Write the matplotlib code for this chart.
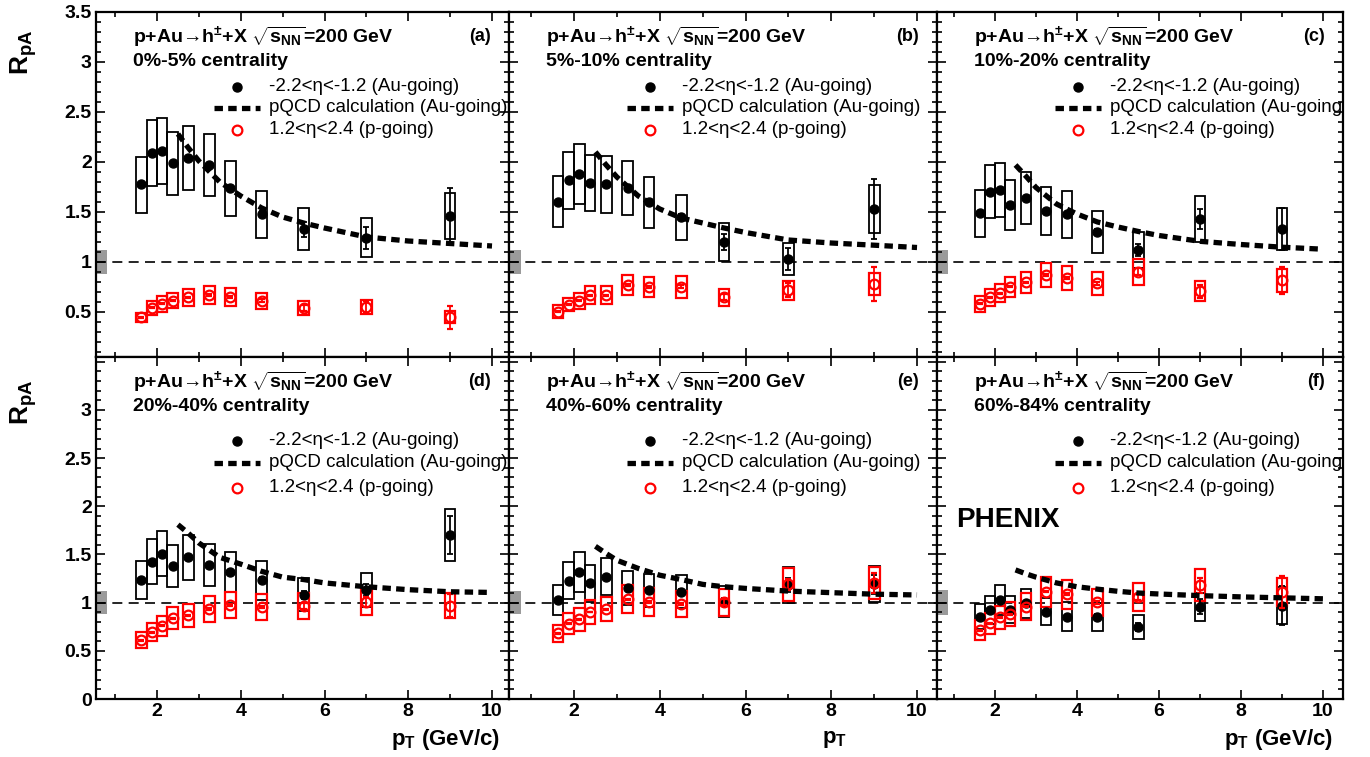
import numpy as np
import matplotlib
import matplotlib.pyplot as plt
from matplotlib.patches import Rectangle
from matplotlib.ticker import MultipleLocator, FuncFormatter

plt.rcParams['font.family'] = ['Liberation Sans', 'DejaVu Sans']
plt.rcParams['mathtext.fontset'] = 'custom'
plt.rcParams['mathtext.rm'] = 'Liberation Sans:bold'
plt.rcParams['mathtext.bf'] = 'Liberation Sans:bold'
plt.rcParams['mathtext.it'] = 'Liberation Sans:bold:italic'
plt.rcParams['mathtext.default'] = 'rm'

# ---- data ----
pt = [1.625, 1.875, 2.125, 2.375, 2.75, 3.25, 3.75, 4.5, 5.5, 7.0, 9.0]
bin_w = 0.25   # width of systematic boxes

centrality = ['0%-5%', '5%-10%', '10%-20%', '20%-40%', '40%-60%', '60%-84%']
tags = ['(a)', '(b)', '(c)', '(d)', '(e)', '(f)']

# Au-going, -2.2<eta<-1.2
au_val = [
    [1.775, 2.09, 2.11, 1.987, 2.04, 1.966, 1.738, 1.476, 1.329, 1.242, 1.456],
    [1.60, 1.815, 1.876, 1.789, 1.775, 1.74, 1.597, 1.446, 1.195, 1.034, 1.53],
    [1.487, 1.70, 1.72, 1.574, 1.64, 1.51, 1.476, 1.30, 1.12, 1.43, 1.33],
    [1.235, 1.426, 1.509, 1.38, 1.47, 1.388, 1.318, 1.232, 1.083, 1.13, 1.70],
    [1.028, 1.228, 1.315, 1.20, 1.27, 1.149, 1.128, 1.114, 1.01, 1.183, 1.19],
    [0.855, 0.924, 1.028, 0.924, 0.993, 0.907, 0.855, 0.855, 0.751, 0.958, 0.97],
]
au_sys = [
    [0.28, 0.33, 0.334, 0.315, 0.324, 0.31, 0.277, 0.235, 0.21, 0.195, 0.23],
    [0.255, 0.285, 0.30, 0.28, 0.285, 0.27, 0.255, 0.225, 0.19, 0.16, 0.243],
    [0.235, 0.265, 0.27, 0.25, 0.26, 0.24, 0.235, 0.207, 0.176, 0.227, 0.213],
    [0.195, 0.23, 0.237, 0.22, 0.235, 0.22, 0.21, 0.20, 0.17, 0.18, 0.27],
    [0.16, 0.19, 0.206, 0.19, 0.19, 0.176, 0.168, 0.17, 0.16, 0.187, 0.187],
    [0.128, 0.145, 0.16, 0.14, 0.149, 0.142, 0.147, 0.144, 0.125, 0.147, 0.19],
]
au_stat = [
    [0.01, 0.01, 0.01, 0.01, 0.01, 0.015, 0.02, 0.03, 0.075, 0.11, 0.285],
    [0.01, 0.01, 0.01, 0.01, 0.01, 0.015, 0.02, 0.03, 0.08, 0.11, 0.30],
    [0.01, 0.01, 0.01, 0.01, 0.01, 0.015, 0.02, 0.03, 0.06, 0.10, 0.21],
    [0.01, 0.01, 0.01, 0.01, 0.01, 0.015, 0.02, 0.03, 0.04, 0.065, 0.20],
    [0.01, 0.01, 0.01, 0.01, 0.01, 0.015, 0.02, 0.03, 0.04, 0.07, 0.10],
    [0.01, 0.01, 0.01, 0.01, 0.01, 0.015, 0.02, 0.03, 0.04, 0.08, 0.20],
]

# p-going, 1.2<eta<2.4
p_val = [
    [0.446, 0.54, 0.58, 0.614, 0.648, 0.668, 0.654, 0.61, 0.54, 0.55, 0.446],
    [0.50, 0.574, 0.614, 0.668, 0.668, 0.768, 0.75, 0.75, 0.648, 0.718, 0.78],
    [0.58, 0.648, 0.685, 0.75, 0.795, 0.872, 0.84, 0.785, 0.90, 0.708, 0.815],
    [0.612, 0.695, 0.758, 0.84, 0.868, 0.934, 0.972, 0.955, 0.965, 1.007, 0.969],
    [0.682, 0.78, 0.827, 0.903, 0.934, 1.035, 1.01, 0.986, 1.003, 1.19, 1.204],
    [0.716, 0.785, 0.848, 0.879, 0.958, 1.114, 1.087, 1.003, 1.062, 1.183, 1.11],
]
p_sys = [
    [0.047, 0.07, 0.077, 0.079, 0.084, 0.092, 0.09, 0.082, 0.07, 0.074, 0.059],
    [0.065, 0.067, 0.08, 0.087, 0.087, 0.102, 0.10, 0.106, 0.084, 0.096, 0.106],
    [0.08, 0.084, 0.09, 0.102, 0.107, 0.12, 0.12, 0.112, 0.126, 0.097, 0.117],
    [0.083, 0.095, 0.10, 0.114, 0.116, 0.13, 0.135, 0.133, 0.131, 0.133, 0.133],
    [0.09, 0.109, 0.116, 0.12, 0.126, 0.147, 0.145, 0.14, 0.137, 0.17, 0.168],
    [0.104, 0.109, 0.121, 0.126, 0.138, 0.156, 0.15, 0.138, 0.147, 0.17, 0.145],
]
p_stat = [
    [0.005, 0.005, 0.005, 0.005, 0.005, 0.008, 0.01, 0.015, 0.03, 0.059, 0.117],
    [0.005, 0.005, 0.005, 0.005, 0.005, 0.008, 0.01, 0.015, 0.03, 0.067, 0.166],
    [0.005, 0.005, 0.005, 0.005, 0.005, 0.008, 0.01, 0.015, 0.035, 0.064, 0.138],
    [0.005, 0.005, 0.005, 0.005, 0.005, 0.008, 0.01, 0.015, 0.03, 0.05, 0.118],
    [0.005, 0.005, 0.005, 0.005, 0.005, 0.008, 0.01, 0.015, 0.03, 0.06, 0.10],
    [0.005, 0.005, 0.005, 0.005, 0.005, 0.008, 0.01, 0.015, 0.03, 0.078, 0.17],
]

# pQCD calculation (Au-going)
pqcd_pt = [2.5, 2.75, 3.0, 3.5, 4.0, 4.5, 5.0, 5.5, 6.0, 7.0, 8.0, 9.0, 10.0]
pqcd_val = [
    [2.28, 2.14, 2.01, 1.80, 1.66, 1.54, 1.45, 1.39, 1.34, 1.25, 1.21, 1.185, 1.16],
    [2.10, 1.97, 1.85, 1.66, 1.53, 1.44, 1.39, 1.34, 1.295, 1.22, 1.19, 1.168, 1.145],
    [1.97, 1.86, 1.745, 1.58, 1.48, 1.40, 1.35, 1.305, 1.265, 1.207, 1.175, 1.148, 1.128],
    [1.81, 1.72, 1.62, 1.47, 1.40, 1.325, 1.265, 1.24, 1.205, 1.165, 1.135, 1.113, 1.106],
    [1.585, 1.51, 1.44, 1.355, 1.285, 1.24, 1.19, 1.165, 1.148, 1.12, 1.104, 1.088, 1.08],
    [1.34, 1.30, 1.265, 1.205, 1.165, 1.14, 1.118, 1.10, 1.09, 1.073, 1.06, 1.05, 1.04],
]

# global normalisation uncertainty (grey box at 1)
norm_unc = [0.12, 0.12, 0.12, 0.12, 0.12, 0.13]

# ---- layout (pixels) ----
W, H = 1370, 757
cols = [(96, 509), (509, 937), (937, 1343)]
rows = [(12, 357), (357, 699)]
xlims = [(0.543, 10.406), (0.484, 10.466), (0.585, 10.49)]
ylims = [(0.05, 3.5), (0.0, 3.55)]

red = '#ff0000'
fig = plt.figure(figsize=(W / 100, H / 100), dpi=100)

fmt = FuncFormatter(lambda v, p: '%g' % round(v, 2))

for i in range(6):
    r, c = i // 3, i % 3
    x0, x1 = cols[c]
    y0, y1 = rows[r]
    wpx, hpx = x1 - x0, y1 - y0
    ax = fig.add_axes([x0 / W, 1 - y1 / H, wpx / W, hpx / H])
    ax.set_xlim(*xlims[c])
    ax.set_ylim(*ylims[r])

    def fx(dx):
        return dx / wpx

    def fy(dy):
        return 1 - dy / hpx

    # grey normalisation box and unity line
    ax.add_patch(Rectangle((xlims[c][0], 1 - norm_unc[i]), 0.27, 2 * norm_unc[i],
                           fc='#9a9a9a', ec='none', zorder=1))
    ax.axhline(1, color='k', lw=1.2, ls=(0, (6, 3.8)), zorder=2)

    # Au-going systematic boxes + points
    for x, v, s in zip(pt, au_val[i], au_sys[i]):
        ax.add_patch(Rectangle((x - bin_w / 2, v - s), bin_w, 2 * s,
                               fill=False, ec='k', lw=1.3, zorder=3))
    ax.errorbar(pt, au_val[i], yerr=au_stat[i], fmt='o', color='k', ms=6.5,
                elinewidth=1.3, capsize=2.5, capthick=1.3, zorder=5)

    # p-going
    for x, v, s in zip(pt, p_val[i], p_sys[i]):
        ax.add_patch(Rectangle((x - bin_w / 2, v - s), bin_w, 2 * s,
                               fill=False, ec=red, lw=1.6, zorder=4))
    ax.errorbar(pt, p_val[i], yerr=p_stat[i], fmt='o', mfc='none', mec=red,
                mew=1.6, ms=7, ecolor=red, elinewidth=1.3, capsize=2.5,
                capthick=1.3, zorder=6)

    # pQCD curve
    ax.plot(pqcd_pt, pqcd_val[i], color='k', lw=3.8, ls=(0, (1.6, 1.0)),
            dash_capstyle='butt', zorder=7)

    # ticks
    ax.xaxis.set_major_locator(MultipleLocator(2))
    ax.xaxis.set_minor_locator(MultipleLocator(1))
    ax.yaxis.set_major_locator(MultipleLocator(0.5))
    ax.yaxis.set_minor_locator(MultipleLocator(0.1))
    ax.tick_params(which='both', direction='in', top=True, right=True,
                   width=1.2, labelsize=14, pad=3)
    ax.tick_params(which='major', length=6.5)
    ax.tick_params(which='minor', length=3.3)
    for sp in ax.spines.values():
        sp.set_linewidth(1.6)
    ax.xaxis.set_major_formatter(fmt)
    ax.yaxis.set_major_formatter(fmt)
    if r == 1:
        ax.yaxis.set_major_formatter(
            FuncFormatter(lambda v, p: '' if v > 3.2 else '%g' % round(v, 2)))
    for lab in ax.get_xticklabels() + ax.get_yticklabels():
        lab.set_fontweight('bold')
    if c != 0:
        ax.tick_params(labelleft=False)
    if r == 0:
        ax.tick_params(labelbottom=False)

    # header text
    ax.text(fx(37), fy(25), 'p+Au\u2192h$^{\\pm}$+X $\\sqrt{s_{NN}}$=200 GeV',
            transform=ax.transAxes, fontsize=14, fontweight='bold', va='center')
    ax.text(fx(37), fy(50), centrality[i] + ' centrality', transform=ax.transAxes,
            fontsize=14, fontweight='bold', va='center')
    ax.text(fx(wpx - 18), fy(25), tags[i], transform=ax.transAxes, fontsize=13,
            fontweight='bold', va='center', ha='right')

    # legend
    ly = [75, 96, 118] if r == 0 else [84, 106, 131]
    ax.plot([fx(141)], [fy(ly[0])], 'o', color='k', ms=6.5,
            transform=ax.transAxes, clip_on=False)
    ax.plot([fx(118), fx(164)], [fy(ly[1])] * 2, color='k', lw=3.8,
            ls=(0, (1.6, 1.0)), dash_capstyle='butt', transform=ax.transAxes)
    ax.plot([fx(141)], [fy(ly[2])], 'o', mfc='none', mec=red, mew=1.6, ms=7,
            transform=ax.transAxes, clip_on=False)
    legtxt = ['-2.2<\u03b7<-1.2 (Au-going)', 'pQCD calculation (Au-going)',
              '1.2<\u03b7<2.4 (p-going)']
    for t, yy in zip(legtxt, ly):
        ax.text(fx(173), fy(yy), t, transform=ax.transAxes, fontsize=13.5,
                va='center', clip_on=True)

    if i == 5:
        ax.text(fx(19), fy(163), 'PHENIX', transform=ax.transAxes, fontsize=20,
                fontweight='bold', va='center')

# axis titles
for yc in [52, 402]:
    fig.text(24 / W, 1 - yc / H, 'R$_{pA}$', fontsize=19, fontweight='bold',
             rotation=90, ha='center', va='center')
fig.text(500 / W, 1 - 740 / H, 'p$_{T}$ (GeV/c)', fontsize=16, fontweight='bold',
         ha='right', va='center')
fig.text(822 / W, 1 - 740 / H, 'p$_{T}$', fontsize=16, fontweight='bold',
         ha='left', va='center')
fig.text(1333 / W, 1 - 740 / H, 'p$_{T}$ (GeV/c)', fontsize=16, fontweight='bold',
         ha='right', va='center')

fig.savefig('out.png', dpi=100)
